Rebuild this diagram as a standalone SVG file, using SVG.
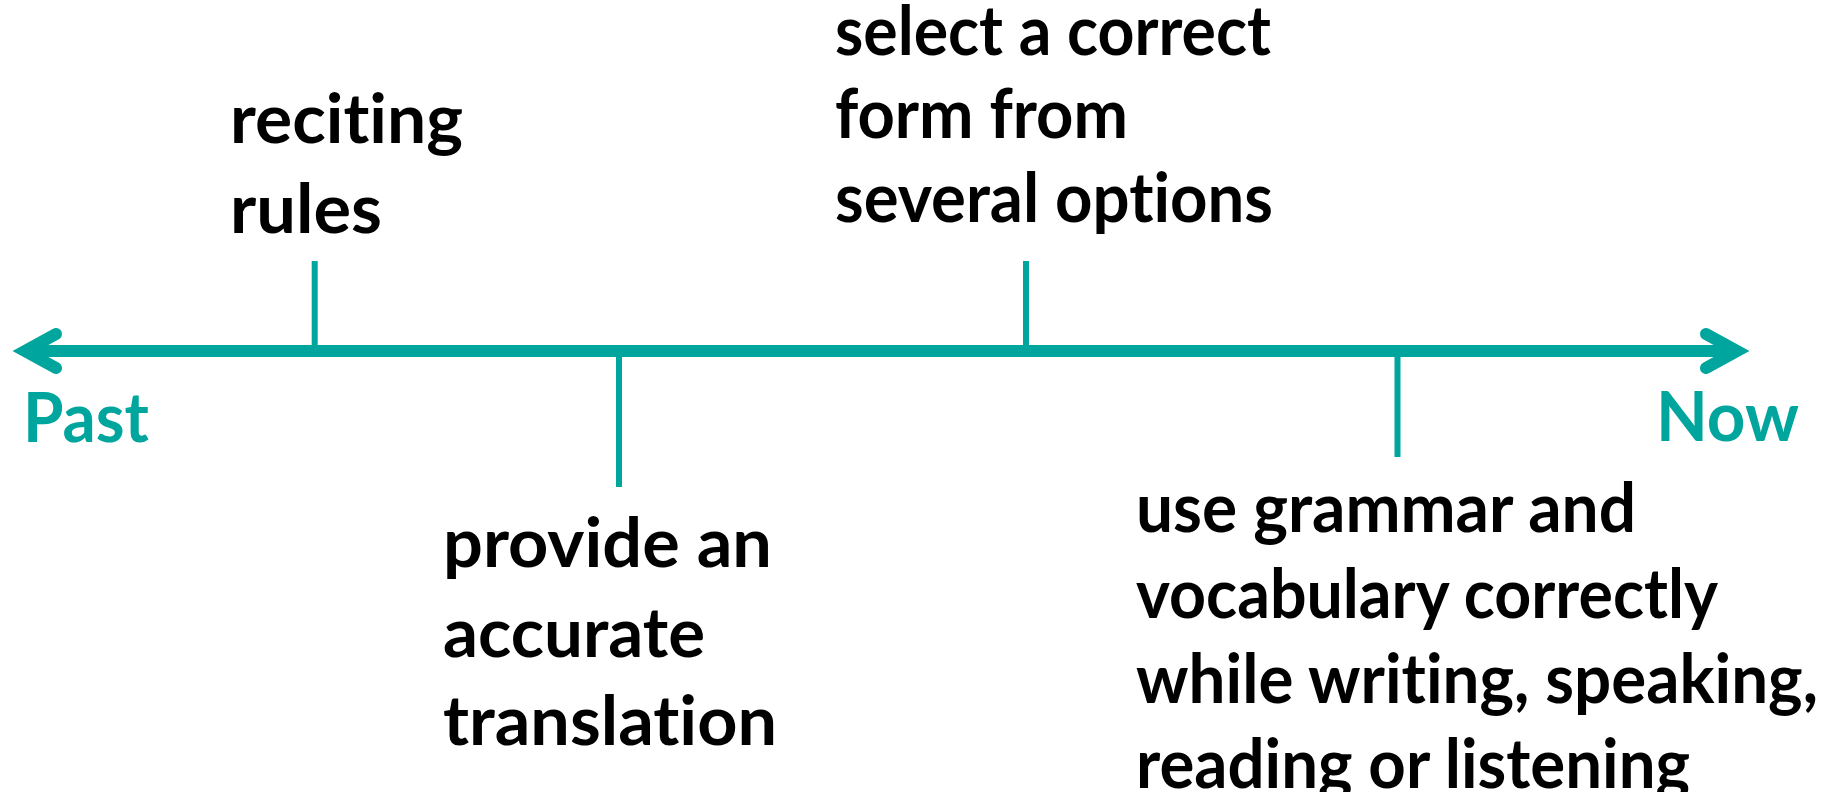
<svg xmlns="http://www.w3.org/2000/svg" width="1843" height="792" viewBox="0 0 1843 792">
  <style>
    .label { font-family: Lato, "Open Sans", "Liberation Sans", sans-serif; font-weight: 700; font-size: 68px; fill: #000000; font-variant-ligatures: none; }
    .end { font-family: Lato, "Open Sans", "Liberation Sans", sans-serif; font-weight: 700; font-size: 68px; fill: #00A59D; font-variant-ligatures: none; }
    .axis { stroke: #00A59D; stroke-width: 12; fill: none; }
    .tick { stroke: #00A59D; stroke-width: 6; fill: none; }
  </style>
  <defs>
    <marker id="chevron" markerUnits="userSpaceOnUse" orient="auto-start-reverse" refX="0" refY="0" markerWidth="60" markerHeight="60" viewBox="-40 -30 60 60" overflow="visible">
      <path d="M -31 -17 L 0 0 L -31 17" fill="none" stroke="#00A59D" stroke-width="12" stroke-linejoin="miter" stroke-linecap="round"/>
    </marker>
  </defs>

  <rect width="1843" height="792" fill="#ffffff"/>

  <!-- timeline axis and ticks -->
  <g id="connectors">
    <line class="axis" x1="25" y1="351" x2="1737" y2="351" marker-start="url(#chevron)" marker-end="url(#chevron)"/>
    <line class="tick" x1="314.7" y1="261" x2="314.7" y2="351"/>
    <line class="tick" x1="1026" y1="261" x2="1026" y2="351"/>
    <line class="tick" x1="619" y1="351" x2="619" y2="487"/>
    <line class="tick" x1="1397.5" y1="351" x2="1397.5" y2="457"/>
  </g>

  <g id="past">
    <text class="end" x="23" y="442" textLength="126" lengthAdjust="spacingAndGlyphs">Past</text>
  </g>
  <g id="now">
    <text class="end" x="1656" y="441" textLength="143" lengthAdjust="spacingAndGlyphs">Now</text>
  </g>

  <g id="reciting-rules">
    <text class="label" x="230" y="143" textLength="233" lengthAdjust="spacingAndGlyphs">reciting</text>
    <text class="label" x="230" y="233" textLength="152" lengthAdjust="spacingAndGlyphs">rules</text>
  </g>

  <g id="accurate-translation">
    <text class="label" x="443" y="567" textLength="329" lengthAdjust="spacingAndGlyphs">provide an</text>
    <text class="label" x="443" y="657" textLength="262" lengthAdjust="spacingAndGlyphs">accurate</text>
    <text class="label" x="443" y="745" textLength="334" lengthAdjust="spacingAndGlyphs">translation</text>
  </g>

  <g id="select-form">
    <text class="label" x="835" y="55" textLength="436" lengthAdjust="spacingAndGlyphs">select a correct</text>
    <text class="label" x="835" y="138" textLength="293" lengthAdjust="spacingAndGlyphs">form from</text>
    <text class="label" x="835" y="222" textLength="438" lengthAdjust="spacingAndGlyphs">several options</text>
  </g>

  <g id="use-grammar">
    <text class="label" x="1136" y="532" textLength="500" lengthAdjust="spacingAndGlyphs">use grammar and</text>
    <text class="label" x="1136" y="618" textLength="582" lengthAdjust="spacingAndGlyphs">vocabulary correctly</text>
    <text class="label" x="1136" y="703" textLength="682" lengthAdjust="spacingAndGlyphs">while writing, speaking,</text>
    <text class="label" x="1136" y="788" textLength="554" lengthAdjust="spacingAndGlyphs">reading or listening</text>
  </g>
</svg>
